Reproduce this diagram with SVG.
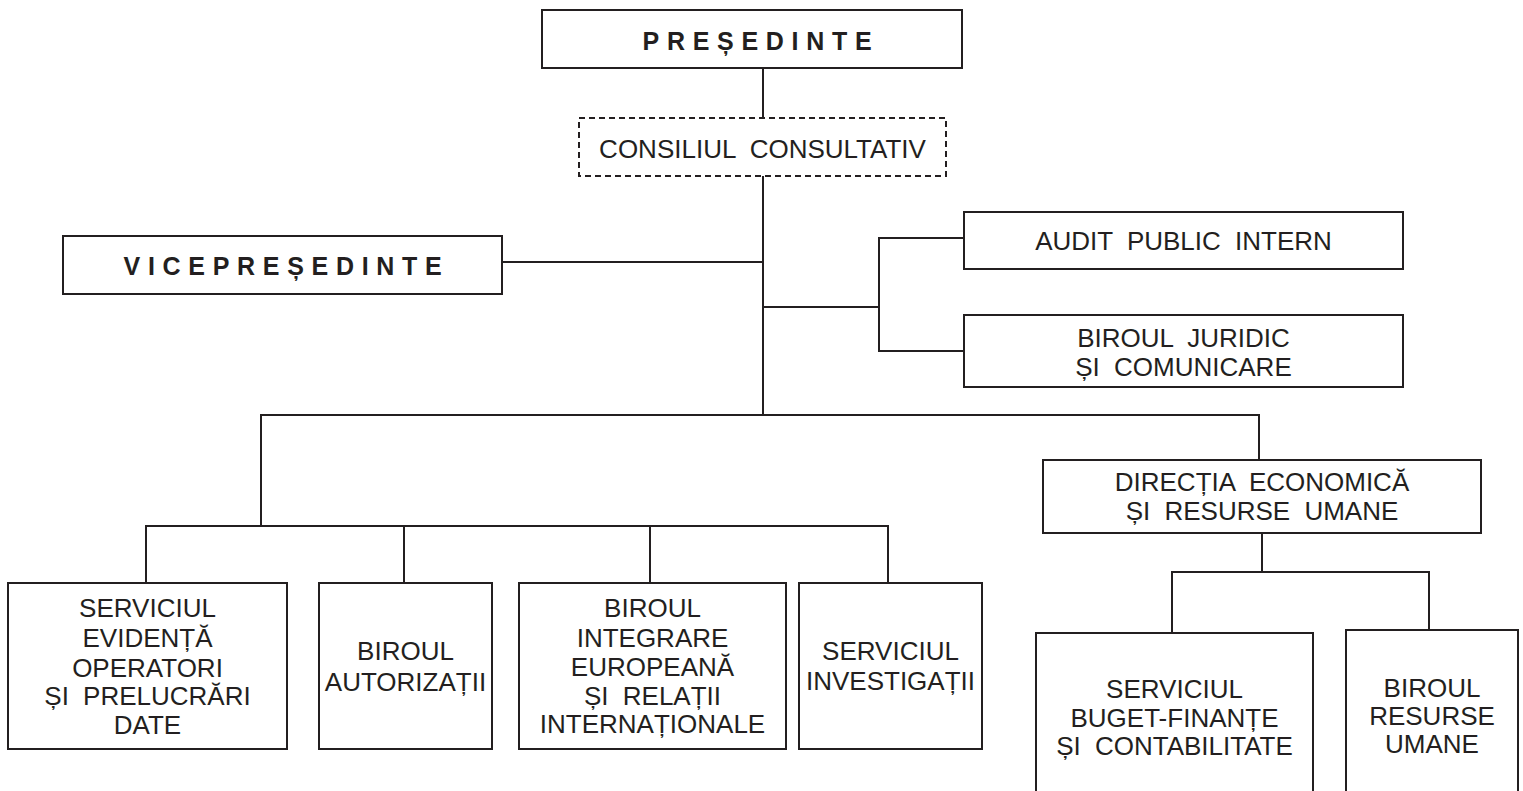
<svg xmlns="http://www.w3.org/2000/svg" width="1523" height="791" viewBox="0 0 1523 791">
<style>
  .box { fill: #ffffff; stroke: #231f20; stroke-width: 2; }
  .dash { fill: #ffffff; stroke: #231f20; stroke-width: 2; stroke-dasharray: 6 4; }
  .conn { fill: none; stroke: #231f20; stroke-width: 2; }
  text { font-family: "Liberation Sans", Arial, Helvetica, sans-serif; fill: #231f20; text-anchor: middle; }
  .t { font-size: 26px; word-spacing: 7px; }
  .b { font-size: 25px; font-weight: bold; letter-spacing: 7.7px; }
</style>
<rect x="0" y="0" width="1523" height="791" fill="#ffffff"/>
<g id="connectors">
  <path class="conn" d="M763 68 V118"/>
  <path class="conn" d="M763 176 V415"/>
  <path class="conn" d="M502 262 H763"/>
  <path class="conn" d="M763 307 H879"/>
  <path class="conn" d="M964 238 H879 V351 H964"/>
  <path class="conn" d="M261 526 V415 H1259 V460"/>
  <path class="conn" d="M146 583 V526 H888 V583"/>
  <path class="conn" d="M404 526 V583"/>
  <path class="conn" d="M650 526 V583"/>
  <path class="conn" d="M1262 533 V572"/>
  <path class="conn" d="M1172 633 V572 H1429 V630"/>
</g>
<g id="presedinte">
  <rect class="box" x="542" y="10" width="420" height="58"/>
  <text class="b" x="761" y="50">PREȘEDINTE</text>
</g>
<g id="consiliul">
  <rect class="dash" x="579" y="118" width="367" height="58"/>
  <text class="t" x="762.5" y="158">CONSILIUL CONSULTATIV</text>
</g>
<g id="vicepresedinte">
  <rect class="box" x="63" y="236" width="439" height="58"/>
  <text class="b" x="286.5" y="275">VICEPREȘEDINTE</text>
</g>
<g id="audit">
  <rect class="box" x="964" y="212" width="439" height="57"/>
  <text class="t" x="1183.5" y="250">AUDIT PUBLIC INTERN</text>
</g>
<g id="juridic">
  <rect class="box" x="964" y="315" width="439" height="72"/>
  <text class="t" x="1183.5" y="347">BIROUL JURIDIC</text>
  <text class="t" x="1183.5" y="376">ȘI COMUNICARE</text>
</g>
<g id="directia">
  <rect class="box" x="1043" y="460" width="438" height="73"/>
  <text class="t" x="1262" y="491">DIRECȚIA ECONOMICĂ</text>
  <text class="t" x="1262" y="520">ȘI RESURSE UMANE</text>
</g>
<g id="evidenta">
  <rect class="box" x="8" y="583" width="279" height="166"/>
  <text class="t" x="147.5" y="617">SERVICIUL</text>
  <text class="t" x="147.5" y="647">EVIDENȚĂ</text>
  <text class="t" x="147.5" y="677">OPERATORI</text>
  <text class="t" x="147.5" y="705">ȘI PRELUCRĂRI</text>
  <text class="t" x="147.5" y="734">DATE</text>
</g>
<g id="autorizatii">
  <rect class="box" x="319" y="583" width="173" height="166"/>
  <text class="t" x="405.5" y="660">BIROUL</text>
  <text class="t" x="405.5" y="691">AUTORIZAȚII</text>
</g>
<g id="integrare">
  <rect class="box" x="519" y="583" width="267" height="166"/>
  <text class="t" x="652.5" y="617">BIROUL</text>
  <text class="t" x="652.5" y="647">INTEGRARE</text>
  <text class="t" x="652.5" y="676">EUROPEANĂ</text>
  <text class="t" x="652.5" y="705">ȘI RELAȚII</text>
  <text class="t" x="652.5" y="733">INTERNAȚIONALE</text>
</g>
<g id="investigatii">
  <rect class="box" x="799" y="583" width="183" height="166"/>
  <text class="t" x="890.5" y="660">SERVICIUL</text>
  <text class="t" x="890.5" y="690">INVESTIGAȚII</text>
</g>
<g id="buget">
  <rect class="box" x="1036" y="633" width="277" height="170"/>
  <text class="t" x="1174.5" y="698">SERVICIUL</text>
  <text class="t" x="1174.5" y="727">BUGET-FINANȚE</text>
  <text class="t" x="1174.5" y="755">ȘI CONTABILITATE</text>
</g>
<g id="resurse">
  <rect class="box" x="1346" y="630" width="172" height="170"/>
  <text class="t" x="1432" y="697">BIROUL</text>
  <text class="t" x="1432" y="725">RESURSE</text>
  <text class="t" x="1432" y="753">UMANE</text>
</g>
</svg>
